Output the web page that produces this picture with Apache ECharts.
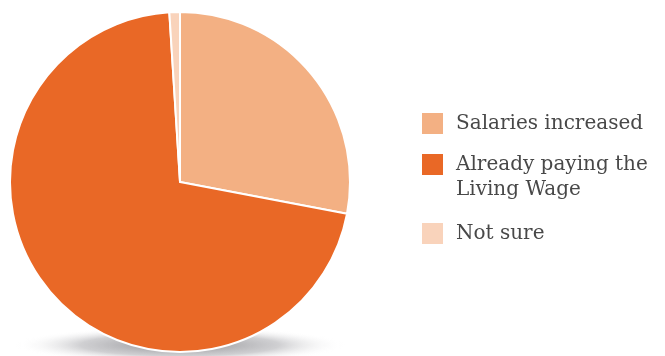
<!DOCTYPE html>
<html><head><meta charset="utf-8">
<script src="https://cdn.jsdelivr.net/npm/echarts@6/dist/echarts.min.js"></script>
<style>html,body{margin:0;padding:0;background:#fff}#c{width:665px;height:356px}</style>
</head><body><div id="c"></div>
<script>
const categories = ['Salaries increased', 'Already paying the Living Wage', 'Not sure'];
const values = [28, 71, 1];
const colors = ['#F3B083', '#E96826', '#F9D3BB'];
const legendLabels = ['Salaries increased', '\nAlready paying the\nLiving Wage', 'Not sure'];
const legendTops = [111, 127, 221];

const chart = echarts.init(document.getElementById('c'), null, {renderer: 'canvas'});
const font = '"DejaVu Serif", serif';
const legends = categories.map((c, i) => ({
  orient: 'vertical', left: 420, top: legendTops[i], padding: 0,
  itemWidth: 23, itemHeight: 23, icon: 'rect',
  selectedMode: false,
  data: [c],
  formatter: () => legendLabels[i],
  textStyle: {fontFamily: font, fontSize: 20, color: '#484848', lineHeight: 25, padding: [0, 0, 0, 7]}
}));

chart.setOption({
  animation: false,
  legend: legends,
  graphic: [{
    type: 'circle', z: -10,
    shape: {cx: 0, cy: 0, r: 165},
    x: 180, y: 345, scaleY: 0.11,
    style: {
      fill: new echarts.graphic.RadialGradient(0.5, 0.5, 0.5, [
        {offset: 0, color: 'rgba(120,120,125,0.85)'},
        {offset: 0.6, color: 'rgba(160,160,165,0.5)'},
        {offset: 1, color: 'rgba(255,255,255,0)'}
      ])
    }
  }],
  series: [{
    type: 'pie', z: 5,
    center: [180, 182], radius: 170,
    startAngle: 90, clockwise: true,
    label: {show: false}, labelLine: {show: false},
    emphasis: {disabled: true},
    itemStyle: {borderColor: '#fff', borderWidth: 2},
    data: categories.map((c, i) => ({name: c, value: values[i], itemStyle: {color: colors[i]}}))
  }]
});
</script></body></html>
